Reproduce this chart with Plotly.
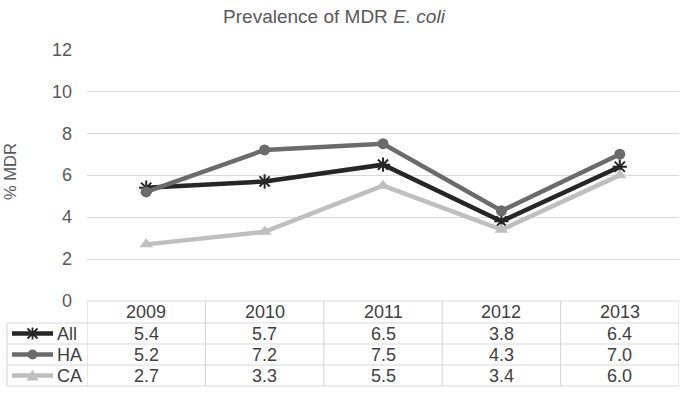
import plotly.graph_objects as go

years = ["2009", "2010", "2011", "2012", "2013"]
all_vals = [5.4, 5.7, 6.5, 3.8, 6.4]
ha_vals = [5.2, 7.2, 7.5, 4.3, 7.0]
ca_vals = [2.7, 3.3, 5.5, 3.4, 6.0]
series_names = ["All", "HA", "CA"]
y_ticks = [0, 2, 4, 6, 8, 10, 12]

W, H = 680, 410
FONT = "Liberation Sans, Arial, sans-serif"
GRID = "#d9d9d9"
TXT = "#404040"
colors = ["#262626", "#6b6b6b", "#bfbfbf"]
symbols = ["asterisk-open", "circle", "triangle-up"]
sizes = [12, 11, 12]
series = [all_vals, ha_vals, ca_vals]


def px(x):
    return x / W


def py(y):
    return 1 - y / H


left, right, top, bottom = 87, 679, 49.3, 301
row_lines = [301, 323, 344, 365, 386]

fig = go.Figure()
for name, vals, c, s, sz in zip(series_names, series, colors, symbols, sizes):
    marker = dict(symbol=s, size=sz, color=c)
    if s.startswith("asterisk"):
        marker["line"] = dict(color=c, width=2)
    fig.add_trace(go.Scatter(x=years, y=vals, name=name, mode="lines+markers",
                             line=dict(color=c, width=4.5), marker=marker,
                             showlegend=False, cliponaxis=False))

shapes = []
for i, ry in enumerate(row_lines):
    x0 = px(left) if i == 0 else px(7)
    shapes.append(dict(type="line", xref="paper", yref="paper", x0=x0, x1=px(right),
                       y0=py(ry), y1=py(ry), line=dict(color=GRID, width=1.2), layer="below"))
for i in range(len(years) + 1):
    shapes.append(dict(type="line", xref="x", yref="paper", x0=i - 0.5, x1=i - 0.5,
                       y0=py(row_lines[0]), y1=py(row_lines[-1]),
                       line=dict(color=GRID, width=1.2), layer="below"))
shapes.append(dict(type="line", xref="paper", yref="paper", x0=px(7), x1=px(7),
                   y0=py(row_lines[1]), y1=py(row_lines[-1]),
                   line=dict(color=GRID, width=1.2), layer="below"))

annotations = []
tfont = dict(size=18, color=TXT, family=FONT)
hc = (row_lines[0] + row_lines[1]) / 2
for i, yr in enumerate(years):
    annotations.append(dict(x=i, xref="x", y=py(hc), yref="paper", text=yr,
                            xanchor="center", yanchor="middle",
                            showarrow=False, font=tfont))
for r, (name, vals, c, s) in enumerate(zip(series_names, series, colors, symbols)):
    rc = (row_lines[r + 1] + row_lines[r + 2]) / 2
    for i, v in enumerate(vals):
        annotations.append(dict(x=i, xref="x", y=py(rc), yref="paper", text=f"{v:.1f}",
                                xanchor="center", yanchor="middle",
                                showarrow=False, font=tfont))
    annotations.append(dict(x=px(55), xref="paper", y=py(rc), yref="paper", text=name,
                            xanchor="left", yanchor="middle", showarrow=False, font=tfont))
    shapes.append(dict(type="line", xref="paper", yref="paper", x0=px(12), x1=px(53),
                       y0=py(rc), y1=py(rc), line=dict(color=c, width=4.5)))
    cx = 32.5
    if s == "circle":
        shapes.append(dict(type="circle", xref="paper", yref="paper",
                           x0=px(cx - 5), x1=px(cx + 5), y0=py(rc + 5), y1=py(rc - 5),
                           fillcolor=c, line=dict(color=c, width=0)))
    elif s.startswith("triangle"):
        path = (f"M {px(cx - 6)} {py(rc + 5)} L {px(cx + 6)} {py(rc + 5)} "
                f"L {px(cx)} {py(rc - 6)} Z")
        shapes.append(dict(type="path", xref="paper", yref="paper", path=path,
                           fillcolor=c, line=dict(color=c, width=0)))
    else:
        d = 5
        path = (f"M {px(cx - d)} {py(rc - d)} L {px(cx + d)} {py(rc + d)} "
                f"M {px(cx - d)} {py(rc + d)} L {px(cx + d)} {py(rc - d)} "
                f"M {px(cx)} {py(rc - d - 1)} L {px(cx)} {py(rc + d + 1)}")
        shapes.append(dict(type="path", xref="paper", yref="paper", path=path,
                           line=dict(color=c, width=1.8)))

annotations.append(dict(x=px(10), xref="paper", y=py(172), yref="paper", text="% MDR",
                        textangle=-90, xanchor="center", yanchor="middle", showarrow=False,
                        font=dict(size=16.5, color="#595959", family=FONT)))

fig.update_layout(
    width=W, height=H,
    margin=dict(l=0, r=0, t=0, b=0, pad=0),
    paper_bgcolor="white", plot_bgcolor="white",
    font=dict(family=FONT, color="#595959"),
    title=dict(text="Prevalence of MDR <i>E. coli</i>", x=px(334), y=py(16),
               xanchor="center", yanchor="middle", xref="paper", yref="paper",
               font=dict(size=19, color="#595959", family=FONT)),
    xaxis=dict(domain=[px(left), px(right)], range=[-0.5, len(years) - 0.5],
               type="category", showticklabels=False, showgrid=False, zeroline=False,
               showline=False, ticks="", fixedrange=True),
    yaxis=dict(domain=[py(bottom), py(top)], range=[0, 12], tickvals=y_ticks,
               showgrid=True, gridcolor=GRID, gridwidth=1.2, zeroline=False,
               showline=False, ticks="", ticklabelstandoff=14,
               tickfont=dict(size=18, color="#595959", family=FONT), automargin=False),
    shapes=shapes, annotations=annotations,
)

fig.write_html("out.html", config={"displayModeBar": False},
               post_script="document.body.style.margin='0';document.body.style.overflow='hidden';")
